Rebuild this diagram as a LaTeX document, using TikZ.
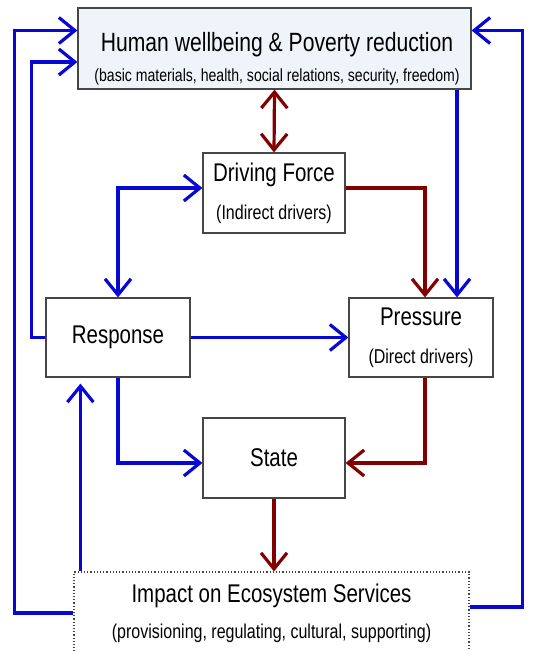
\documentclass[tikz,border=0pt]{standalone}
\usepackage{fontspec}
\setmainfont{Liberation Sans}[FakeStretch=0.8]
\usetikzlibrary{arrows.meta}

\definecolor{linkblue}{RGB}{8,8,212}
\definecolor{linkred}{RGB}{130,0,0}
\definecolor{wellfill}{RGB}{238,244,250}
\definecolor{boxgray}{RGB}{70,70,70}

\newcommand{\subtext}[1]{{\fontsize{10}{12}\selectfont #1}}

\tikzset{
  box/.style={draw=boxgray, line width=0.6pt, fill=white, align=center,
    font=\fontsize{12.8}{15}\selectfont},
  bluelink/.style={draw=linkblue, line width=1.6pt,
    -{Straight Barb[length=8pt,width=13pt]}},
  redlink/.style={draw=linkred, line width=1.6pt,
    -{Straight Barb[length=8pt,width=13pt]}}
}

\begin{document}
\begin{tikzpicture}[x=0.5pt, y=-0.5pt]
\useasboundingbox (0,0) rectangle (535,651);

% Boxes
\node at (274.5,48.5) (well) [box, fill=wellfill, minimum width=196.5pt, minimum height=40.5pt] {};
\node at (277,59) (welltext) [align=center, font=\fontsize{13.2}{15}\selectfont]
  {Human wellbeing \& Poverty reduction\\[0pt]
   {\fontsize{8.8}{10}\selectfont (basic materials, health, social relations, security, freedom)}};
\node at (274,193) (drive) [box, minimum width=71pt, minimum height=40pt]
  {Driving Force\\[4pt] \subtext{(Indirect drivers)}};
\node at (118,337.5) (resp) [box, minimum width=72pt, minimum height=39.5pt] {Response};
\node at (421,337.5) (press) [box, minimum width=72pt, minimum height=39.5pt]
  {Pressure\\[4pt] \subtext{(Direct drivers)}};
\node at (274,458) (state) [box, minimum width=71pt, minimum height=40pt] {State};
\node at (271.5,613) (impact) [box, densely dotted, minimum width=197.5pt, minimum height=41pt]
  {Impact on Ecosystem Services\\[3pt] \subtext{(provisioning, regulating, cultural, supporting)}};

% Anchor points
\coordinate (wellL1) at ([yshift=9pt]well.west);
\coordinate (wellL2) at ([yshift=-6.75pt]well.west);
\coordinate (wellR) at ([yshift=9pt]well.east);
\coordinate (impactR) at ([yshift=3pt]impact.east);
\coordinate (impactUp) at ([xshift=3.5pt]impact.north west);
\coordinate (driveW) at ([yshift=2.5pt]drive.west);
\coordinate (driveE) at ([yshift=2.5pt]drive.east);
\coordinate (pressRed) at ([xshift=2pt]press.north);
\coordinate (pressBlue) at ([xshift=18pt]press.north);
\coordinate (pressDown) at ([xshift=2pt]press.south);
\coordinate (stateW) at ([yshift=-2.5pt]state.west);
\coordinate (stateE) at ([yshift=-2.5pt]state.east);

% Blue links
\draw[bluelink] (impact.west) -- ++(-59,0) |- (wellL1);
\draw[bluelink] (resp.west) -- ++(-14,0) |- (wellL2);
\draw[bluelink] (impactR) -- ++(53,0) |- (wellR);
\draw[bluelink] (pressBlue |- well.south) -- (pressBlue);
\draw[bluelink, {Straight Barb[length=8pt,width=13pt]}-{Straight Barb[length=8pt,width=13pt]}]
  (resp.north) |- (driveW);
\draw[bluelink] (resp.east) -- (press.west);
\draw[bluelink] (resp.south) |- (stateW);
\draw[bluelink, shorten >=3pt] (impactUp) -- (impactUp |- resp.south);

% Red links
\draw[redlink, {Straight Barb[length=8pt,width=13pt]}-{Straight Barb[length=8pt,width=13pt]}]
  (well.south) -- (drive.north);
\draw[redlink] (driveE) -| (pressRed);
\draw[redlink] (pressDown) |- (stateE);
\draw[redlink] (state.south) -- (state.south |- impact.north);

\end{tikzpicture}
\end{document}
